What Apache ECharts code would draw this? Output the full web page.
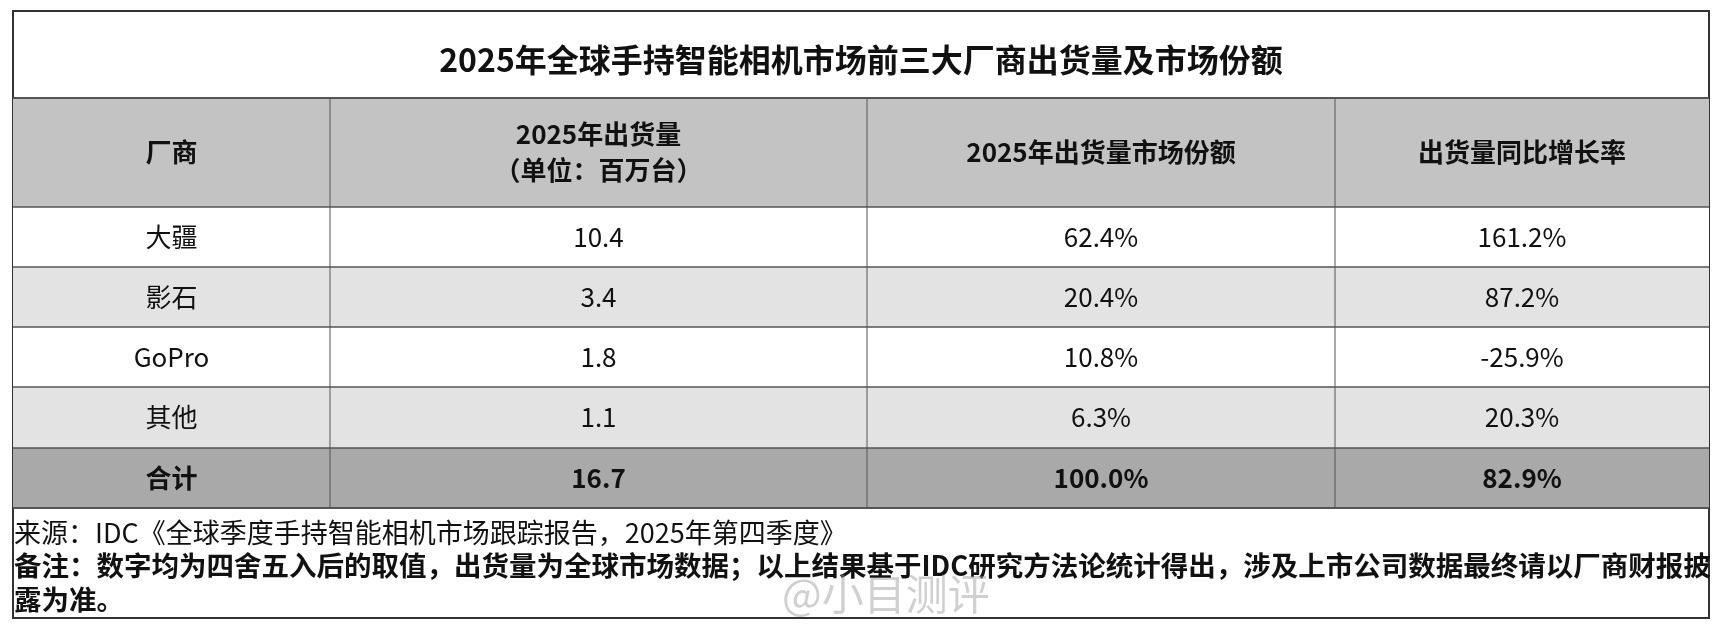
<!DOCTYPE html>
<html><head><meta charset="utf-8">
<script src="https://cdn.jsdelivr.net/npm/echarts@6/dist/echarts.min.js"></script>
<style>html,body{margin:0;padding:0;background:#fff}#c{width:1720px;height:628px}</style>
</head><body><div id="c"></div>
<script>
const title = '2025年全球手持智能相机市场前三大厂商出货量及市场份额';
const headers = ['厂商', '2025年出货量\n（单位：百万台）', '2025年出货量市场份额', '出货量同比增长率'];
const vendors = ['大疆', '影石', 'GoPro', '其他', '合计'];
const shipments = ['10.4', '3.4', '1.8', '1.1', '16.7'];
const shares = ['62.4%', '20.4%', '10.8%', '6.3%', '100.0%'];
const growth = ['161.2%', '87.2%', '-25.9%', '20.3%', '82.9%'];
const source = '来源：IDC《全球季度手持智能相机市场跟踪报告，2025年第四季度》';
const note1 = '备注：数字均为四舍五入后的取值，出货量为全球市场数据；以上结果基于IDC研究方法论统计得出，涉及上市公司数据最终请以厂商财报披';
const note2 = '露为准。';
const watermark = '@小目测评';

const FONT = '"Noto Sans CJK SC", "Noto Sans", sans-serif';
const colX = [13, 330, 867, 1335, 1709];
const rowY = [207, 267, 327, 387, 448, 508];
const rowBg = ['#ffffff', '#e3e3e3', '#ffffff', '#e3e3e3', '#a9a9a9'];
const els = [];
els.push({type:'rect', shape:{x:13,y:11,width:1696,height:607}, style:{fill:'#fff', stroke:'#333', lineWidth:2}});
els.push({type:'text', x:861, y:60, style:{text:title, font:'bold 32px '+FONT, fill:'#111', align:'center', verticalAlign:'middle'}});
els.push({type:'rect', shape:{x:13,y:98,width:1696,height:109}, style:{fill:'#c3c3c3'}});
headers.forEach((h,i)=>{
  els.push({type:'text', x:(colX[i]+colX[i+1])/2, y:152, style:{text:h, font:'bold 26px '+FONT, fill:'#111', align:'center', verticalAlign:'middle', lineHeight:36}});
});
const cols = [vendors, shipments, shares, growth];
vendors.forEach((v,r)=>{
  els.push({type:'rect', shape:{x:13,y:rowY[r],width:1696,height:rowY[r+1]-rowY[r]}, style:{fill:rowBg[r]}});
  cols.forEach((col,c)=>{
    els.push({type:'text', x:(colX[c]+colX[c+1])/2, y:(rowY[r]+rowY[r+1])/2, style:{text:col[r], font:(r===4?'bold ':'')+'26px '+FONT, fill:'#111', align:'center', verticalAlign:'middle'}});
  });
});
[98,207,267,327,387,448,508].forEach(y=>els.push({type:'line', shape:{x1:13,y1:y,x2:1709,y2:y}, style:{stroke:'#555', lineWidth:y===98||y===508?2:1.5}}));
colX.slice(1,4).forEach(x=>els.push({type:'line', shape:{x1:x,y1:98,x2:x,y2:508}, style:{stroke:'#555', lineWidth:1}}));
els.push({type:'text', x:14, y:533, style:{text:source, font:'27px '+FONT, fill:'#111', verticalAlign:'middle'}});
els.push({type:'text', x:14, y:566, style:{text:note1, font:'bold 27.5px '+FONT, fill:'#111', verticalAlign:'middle'}});
els.push({type:'text', x:14, y:600, style:{text:note2, font:'bold 27.5px '+FONT, fill:'#111', verticalAlign:'middle'}});
els.push({type:'text', x:782, y:594, style:{text:watermark, font:'42px '+FONT, fill:'rgba(150,150,150,0.45)', verticalAlign:'middle'}});
const chart = echarts.init(document.getElementById('c'));
chart.setOption({animation:false, graphic:{elements:els}});
</script></body></html>
